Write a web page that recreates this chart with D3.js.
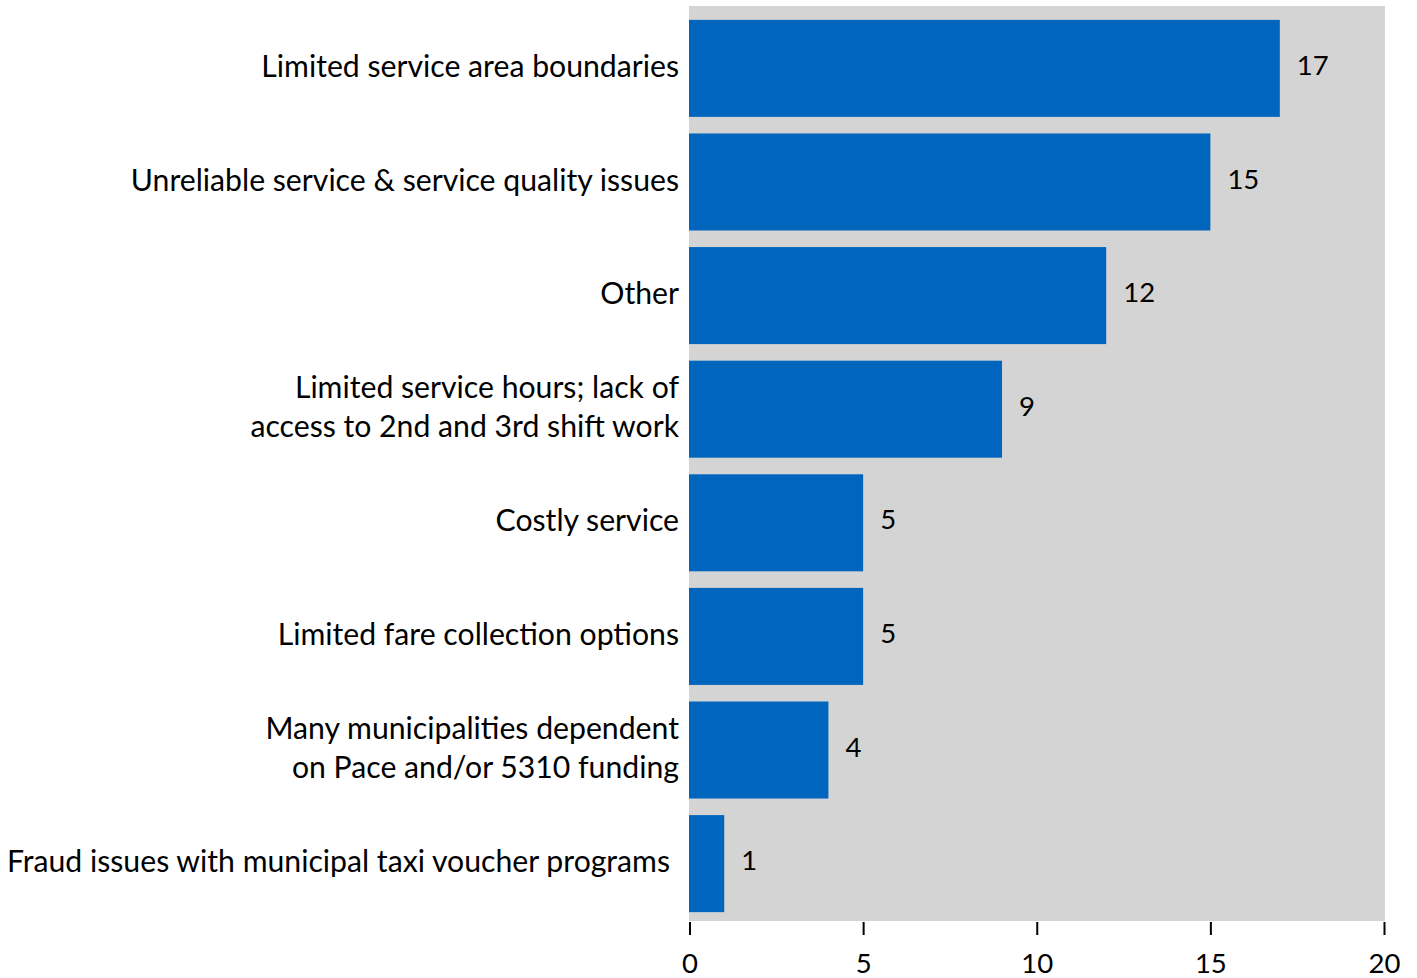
<!DOCTYPE html>
<html><head><meta charset="utf-8">
<script src="https://cdn.jsdelivr.net/npm/d3@7"></script>
<style>body{margin:0;background:#fff;} svg{display:block;} text{font-family:Lato, "Open Sans", sans-serif;fill:#000;}</style>
</head><body>
<svg id="c" width="1417" height="978"></svg>
<script>
const categories = [
  ["Limited service area boundaries"],
  ["Unreliable service & service quality issues"],
  ["Other"],
  ["Limited service hours; lack of", "access to 2nd and 3rd shift work"],
  ["Costly service"],
  ["Limited fare collection options"],
  ["Many municipalities dependent", "on Pace and/or 5310 funding"],
  ["Fraud issues with municipal taxi voucher programs"]
];
const values = [17, 15, 12, 9, 5, 5, 4, 1];
const xTicks = [0, 5, 10, 15, 20];

const svg = d3.select("#c");
const fsNum = 27.5, fsCat = 30.2;
const plotTop = 6, plotBottom = 921, plotLeft = 689, plotRight = 1385;
const x = d3.scaleLinear().domain([0, 20]).range([689.5, 1384]);
const y = d3.scaleBand().domain(d3.range(categories.length)).range([plotTop, 926]).paddingInner(0.146).paddingOuter(0.122);

svg.append("rect").attr("x", plotLeft).attr("y", plotTop).attr("width", plotRight - plotLeft).attr("height", plotBottom - plotTop).attr("fill", "#d4d4d4");

svg.selectAll("rect.bar").data(values).join("rect").attr("class", "bar")
  .attr("x", plotLeft).attr("y", (d, i) => y(i)).attr("height", y.bandwidth())
  .attr("width", d => x(d) - plotLeft).attr("fill", "#0065bd");

svg.selectAll("text.val").data(values).join("text").attr("class", "val")
  .attr("x", d => x(d) + 17).attr("y", (d, i) => y(i) + y.bandwidth() / 2 - 3)
  .attr("dy", "0.35em").attr("font-size", fsNum).text(d => d);

const lh = 39;
categories.forEach((lines, i) => {
  const cy = y(i) + y.bandwidth() / 2 - 2;
  const t = svg.append("text").attr("text-anchor", "end").attr("font-size", fsCat);
  lines.forEach((ln, j) => {
    t.append("tspan").attr("x", 679).attr("y", cy + (j - (lines.length - 1) / 2) * lh).attr("dy", "0.35em").text(ln);
  });
  const bb = t.node().getBBox();
  if (bb.x < 16) { t.attr("text-anchor", "start"); t.selectAll("tspan").attr("x", 7); }
});

const ax = svg.append("g").attr("transform", "translate(0," + (plotBottom + 1) + ")")
  .call(d3.axisBottom(x).tickValues(xTicks).tickSize(13).tickPadding(18).tickFormat(d3.format("d")));
ax.select(".domain").remove();
ax.selectAll(".tick line").attr("stroke", "#000").attr("stroke-width", 2);
ax.selectAll(".tick text").attr("font-size", fsNum).attr("font-family", "Lato, 'Open Sans', sans-serif").attr("fill", "#000");
</script>
</body></html>
